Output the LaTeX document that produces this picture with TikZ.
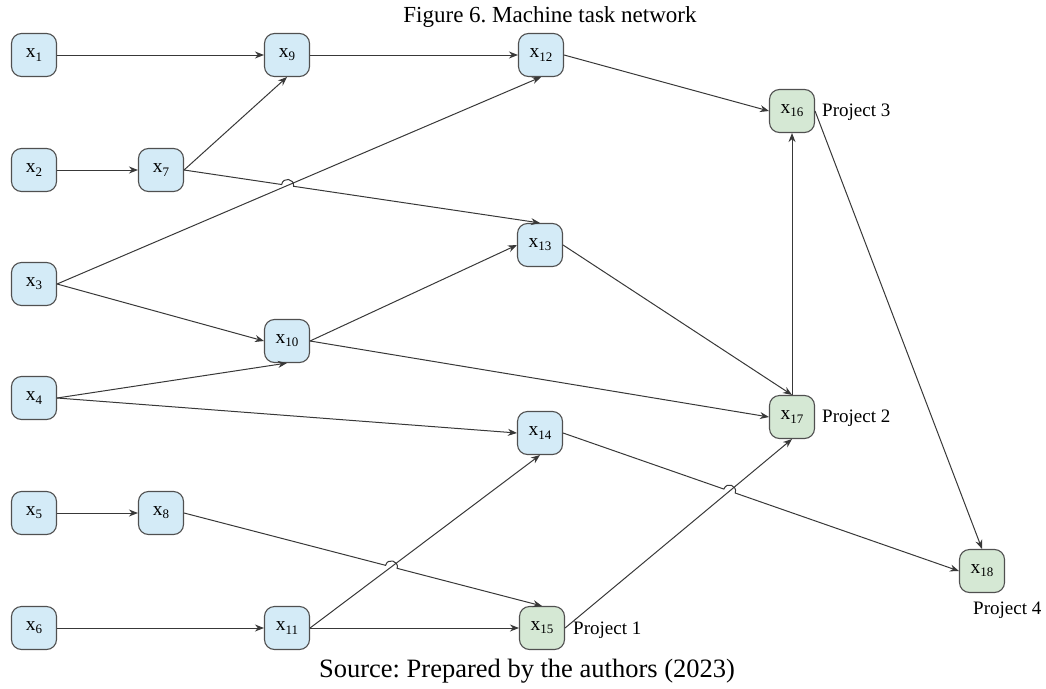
\documentclass[tikz,border=0pt]{standalone}
\usepackage{fontspec}
\setmainfont{Liberation Serif}
\usetikzlibrary{arrows.meta,calc,intersections}
\definecolor{taskblue}{HTML}{D4EBF7}
\definecolor{taskgreen}{HTML}{D5E8D4}
\definecolor{nodeborder}{HTML}{505050}
\definecolor{edgecol}{HTML}{383838}
\newcommand\xsub[1]{x\raisebox{-0.35ex}{\fontsize{13}{13}\selectfont #1}}
\frenchspacing
\begin{document}
\begin{tikzpicture}[x=1pt,y=-1pt,
  task/.style={draw=nodeborder, line width=1.1pt, rounded corners=10pt,
    minimum width=45pt, minimum height=43pt, inner sep=0pt,
    font=\fontsize{19.5}{19.5}\selectfont},
  bluetask/.style={task, fill=taskblue},
  greentask/.style={task, fill=taskgreen},
  edge/.style={draw=edgecol, line width=1pt, -{Stealth[length=9pt,width=7pt]}},
  hop/.style={bend left=90, looseness=1.7},
  captext/.style={inner sep=0pt, font=\fontsize{23}{23}\selectfont},
  projtext/.style={inner sep=0pt, anchor=west, font=\fontsize{19}{19}\selectfont}]
\useasboundingbox (0,0) rectangle (1046,688);

\node[captext] (title) at (550,17) {Figure 6. Machine task network};
\node[captext, font=\fontsize{26.5}{26.5}\selectfont] (source) at (527,671) {Source: Prepared by the authors (2023)};

\node[bluetask] (x1) at (34,55) {\xsub{1}};
\node[bluetask] (x2) at (34,170) {\xsub{2}};
\node[bluetask] (x3) at (34,284) {\xsub{3}};
\node[bluetask] (x4) at (34,398) {\xsub{4}};
\node[bluetask] (x5) at (34,513) {\xsub{5}};
\node[bluetask] (x6) at (34,628) {\xsub{6}};
\node[bluetask] (x7) at (161,170) {\xsub{7}};
\node[bluetask] (x8) at (161,513) {\xsub{8}};
\node[bluetask] (x9) at (287,55) {\xsub{9}};
\node[bluetask] (x10) at (287,341) {\xsub{10}};
\node[bluetask] (x11) at (287,628) {\xsub{11}};
\node[bluetask] (x12) at (541,55) {\xsub{12}};
\node[bluetask] (x13) at (540,245) {\xsub{13}};
\node[bluetask] (x14) at (540,433) {\xsub{14}};
\node[greentask] (x15) at (542,628) {\xsub{15}};
\node[greentask] (x16) at (792,111) {\xsub{16}};
\node[greentask] (x17) at (792,417) {\xsub{17}};
\node[greentask] (x18) at (982,571) {\xsub{18}};

\node[projtext] (p3) at (822,112) {Project 3};
\node[projtext] (p2) at (822,418) {Project 2};
\node[projtext] (p1) at (573,630) {Project 1};
\node[projtext] (p4) at (973,610) {Project 4};

\draw[edge] (x1.east) -- (x9.west);
\draw[edge] (x9.east) -- (x12.west);
\draw[edge] (x12.east) -- (x16.west);
\draw[edge] (x2.east) -- (x7.west);
\draw[edge] (x7.east) -- (x9.south);
\draw[edge] (x3.east) -- (x12.south);
\draw[edge] (x3.east) -- (x10.west);
\draw[edge] (x10.east) -- (x13.west);
\draw[edge] (x10.east) -- (x17.west);
\draw[edge] (x4.east) -- (x10.south);
\draw[edge] (x4.east) -- (x14.west);
\draw[edge] (x13.east) -- (x17.north);
\draw[edge] (x5.east) -- (x8.west);
\draw[edge] (x6.east) -- (x11.west);
\draw[edge] (x11.east) -- (x15.west);
\draw[edge] (x11.east) -- (x14.south);
\draw[edge] (x15.east) -- (x17.south);
\draw[edge] (x17.north) -- (x16.south);
\draw[edge] (x16.east) -- (x18.north);

% edges with line hops
\path[name path=a1] (x3.east) -- (x12.south);
\path[name path=b1] (x7.east) -- (x13.north);
\path[name intersections={of=a1 and b1, by=h1}];
\draw[edge] (x7.east) -- ($(h1)!6pt!(x7.east)$) to[hop] ($(h1)!6pt!(x13.north)$) -- (x13.north);

\path[name path=a2] (x15.east) -- (x17.south);
\path[name path=b2] (x14.east) -- (x18.west);
\path[name intersections={of=a2 and b2, by=h2}];
\draw[edge] (x14.east) -- ($(h2)!6pt!(x14.east)$) to[hop] ($(h2)!6pt!(x18.west)$) -- (x18.west);

\path[name path=a3] (x11.east) -- (x14.south);
\path[name path=b3] (x8.east) -- (x15.north);
\path[name intersections={of=a3 and b3, by=h3}];
\draw[edge] (x8.east) -- ($(h3)!6pt!(x8.east)$) to[hop] ($(h3)!6pt!(x15.north)$) -- (x15.north);
\end{tikzpicture}
\end{document}
